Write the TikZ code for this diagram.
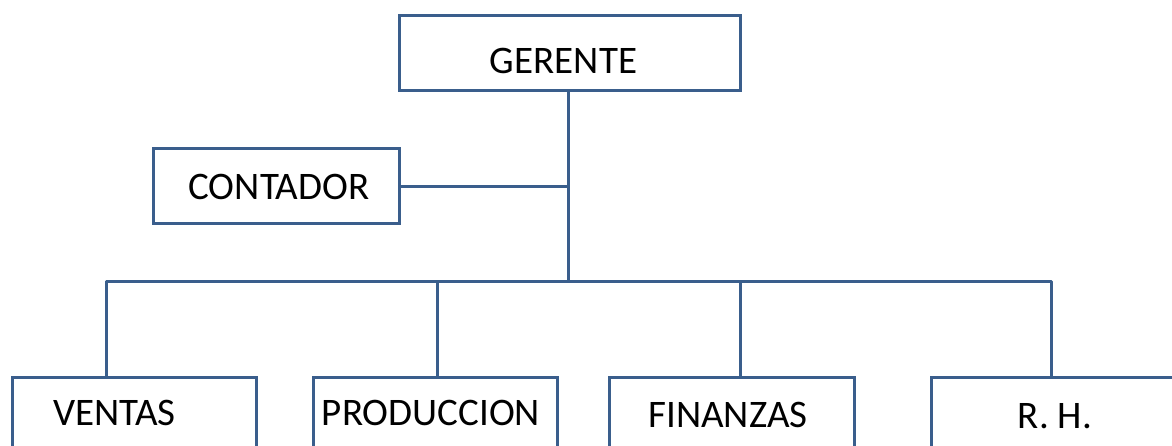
\documentclass[tikz,border=0pt]{standalone}
\usepackage{fontspec}
\setmainfont{Carlito}
\definecolor{boxblue}{RGB}{58,94,140}
\tikzset{
  orgbox/.style={draw=boxblue, line width=3pt, rectangle, minimum height=75pt, inner sep=0pt},
  orgline/.style={draw=boxblue, line width=3pt},
  orgtext/.style={anchor=base, inner sep=0pt, font=\fontsize{39}{47}\selectfont, text=black}
}
\begin{document}
\begin{tikzpicture}[x=1pt, y=-1pt]
\useasboundingbox (0,0) rectangle (1172,446);
% boxes
\node[orgbox, minimum width=341pt] (gerente) at (569.5,53.5) {};
\node[orgbox, minimum width=246pt] (contador) at (276,186.5) {};
\node[orgbox, minimum width=244pt] (ventas) at (134,414.5) {};
\node[orgbox, minimum width=244pt] (produccion) at (435,414.5) {};
\node[orgbox, minimum width=245pt] (finanzas) at (731.5,414.5) {};
\node[orgbox, minimum width=244pt] (rh) at (1053,414.5) {};
% texts
\node[orgtext] (tg) at (563.5,74) {GERENTE};
\node[orgtext] (tc) at (279,200) {CONTADOR};
\node[orgtext] (tv) at (114.5,425) {VENTAS};
\node[orgtext] (tp) at (431,425) {PRODUCCION};
\node[orgtext] (tf) at (728,427) {FINANZAS};
\node[orgtext] (tr) at (1055,428) {R. H.};
% connectors
\coordinate (j) at (568,281.5);
\coordinate (bl) at (106,281.5);
\coordinate (b2) at (437,281.5);
\coordinate (b3) at (740,281.5);
\coordinate (br) at (1051.5,281.5);
\draw[orgline] (gerente.south -| j) -- (j);
\draw[orgline] (contador.east) -- (contador.east -| j);
\draw[orgline, line join=round] (ventas.north -| bl) -- (bl) -- (br) -- (rh.north -| br);
\draw[orgline] (b2) -- (produccion.north -| b2);
\draw[orgline] (b3) -- (finanzas.north -| b3);
\end{tikzpicture}
\end{document}
